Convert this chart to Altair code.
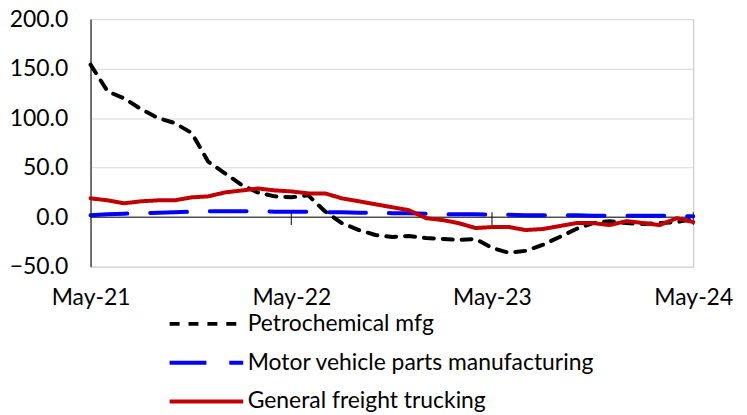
import altair as alt
import pandas as pd

months = pd.date_range("2021-05-01", periods=37, freq="MS").strftime("%Y-%m-%d").tolist()
series_names = ["Petrochemical mfg", "Motor vehicle parts manufacturing", "General freight trucking"]
series_colors = ["#000000", "#0000FF", "#C00000"]
series_dashes = [[10, 9], [37, 23], [1, 0]]

petro = [154, 127, 120, 109, 100, 95, 85, 56, 44, 32, 25, 21, 20, 22, 6, -6, -13, -18,
         -20, -19, -21, -22, -23, -22, -31, -36, -34, -28, -20, -12, -6, -4, -6, -7, -6, -5, -2]
motor = [2, 3, 3.5, 4, 4.5, 5, 5.5, 6, 6, 6, 6, 5.5, 5.5, 5.5, 5, 5, 4.5, 4.5, 4, 4, 3.5,
         3, 3, 3, 2.5, 2.5, 2, 2, 2, 2, 1.5, 1.5, 1.5, 1.5, 1.5, 1, 1]
trucking = [19, 17, 14, 16, 17, 17, 20, 21, 25, 27, 29, 27, 26, 24, 24, 19, 16, 13, 10, 7,
            -1, -3, -6, -11, -10, -10, -13, -12, -9, -6, -6, -8, -4, -6, -8, -1, -5]

y_ticks = [-50, 0, 50, 100, 150, 200]
x_tick_years = [2021, 2022, 2023, 2024]
inner_tick_dates = ["2022-05-01", "2023-05-01", "2024-05-01"]

rows = []
for name, vals in zip(series_names, [petro, motor, trucking]):
    for m, v in zip(months, vals):
        rows.append({"month": m, "series": name, "value": v})
df = pd.DataFrame(rows)

FONT = "Lato"
FS = 23
x_scale = alt.Scale(
    type="utc",
    domain=[alt.DateTime(year=2021, month=5, date=1, utc=True),
            alt.DateTime(year=2024, month=5, date=1, utc=True)],
)
y_scale = alt.Scale(domain=[-50, 200], nice=False, zero=False)

legend = alt.Legend(
    title=None, orient="none", legendX=105, legendY=295, direction="vertical",
    symbolType="M-5,0H5", symbolSize=219, symbolStrokeWidth=4,
    labelFontSize=FS, labelFont=FONT, labelColor="black", labelOffset=30,
    rowPadding=15, padding=0, labelLimit=0,
)

zero = alt.Chart(pd.DataFrame({"y": [0]})).mark_rule(color="black", strokeWidth=1).encode(
    y=alt.Y("y:Q", scale=y_scale)
)

tick_df = pd.DataFrame({"month": inner_tick_dates, "top": [5, 5, 5], "bottom": [-8, -8, -8]})
ticks = alt.Chart(tick_df).mark_rule(color="black", strokeWidth=1).encode(
    x=alt.X("month:T", scale=x_scale),
    y=alt.Y("top:Q", scale=y_scale),
    y2="bottom:Q",
)

lines = alt.Chart(df).mark_line(strokeWidth=4, strokeCap="round", strokeJoin="round").encode(
    x=alt.X(
        "month:T", scale=x_scale,
        axis=alt.Axis(
            values=[alt.DateTime(year=yr, month=5, date=1, utc=True) for yr in x_tick_years],
            labelExpr="utcFormat(datum.value, '%b-%y')", labelFontSize=FS, labelFont=FONT,
            labelColor="black", labelPadding=20, ticks=False, tickSize=0, domain=False,
            grid=False, title=None, labelFlush=False, labelOverlap=False,
        ),
    ),
    y=alt.Y(
        "value:Q", scale=y_scale,
        axis=alt.Axis(
            values=y_ticks, format=".1f", labelFontSize=FS, labelFont=FONT, labelColor="black",
            labelPadding=23, ticks=False, tickSize=0, domain=True, domainColor="black",
            domainWidth=1, grid=True, gridColor="#D9D9D9", gridWidth=1, title=None,
        ),
    ),
    color=alt.Color("series:N", scale=alt.Scale(domain=series_names, range=series_colors), legend=legend),
    strokeDash=alt.StrokeDash("series:N", scale=alt.Scale(domain=series_names, range=series_dashes), legend=legend),
    order=alt.Order("month:T"),
)

chart = alt.layer(zero, ticks, lines).properties(
    width=606, height=249,
    autosize=alt.AutoSizeParams(type="none"),
    padding={"left": 83, "top": 10, "right": 46, "bottom": 145},
).configure_view(stroke="#BFBFBF", strokeWidth=1)

chart.save("out.html", embed_options={"renderer": "svg", "actions": False})
